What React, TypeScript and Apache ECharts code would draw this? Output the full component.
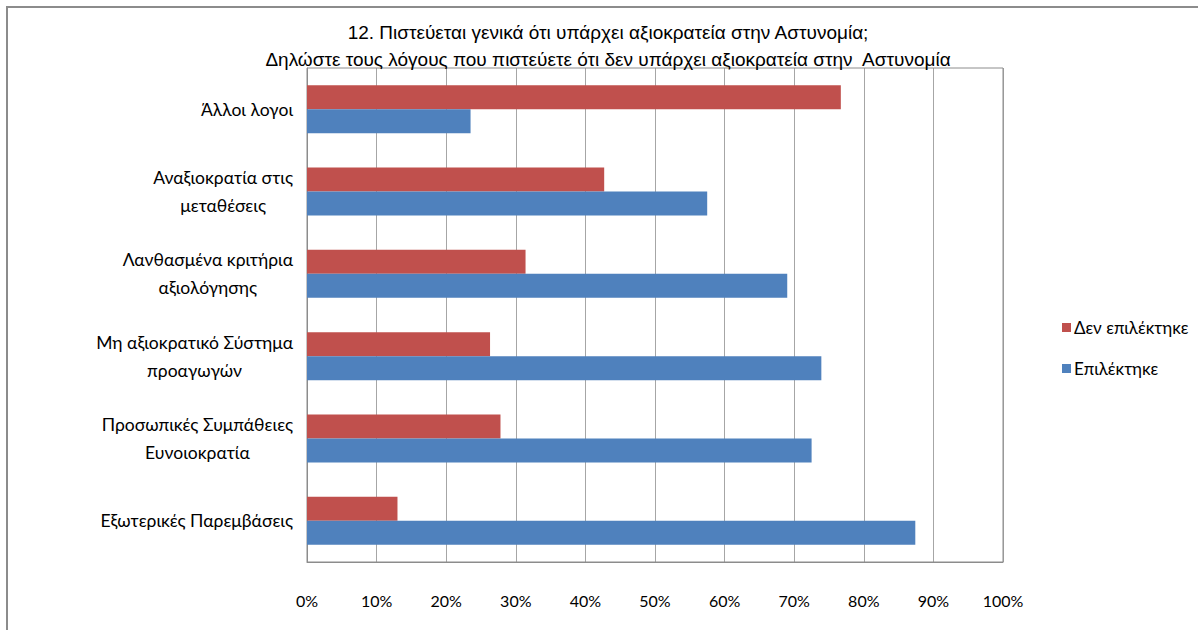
import React, { useEffect, useRef } from "react";
import * as echarts from "echarts";

const categories = [
  "Εξωτερικές Παρεμβάσεις",
  "Προσωπικές Συμπάθειες\nΕυνοιοκρατία",
  "Μη αξιοκρατικό Σύστημα\nπροαγωγών",
  "Λανθασμένα κριτήρια\nαξιολόγησης",
  "Αναξιοκρατία στις\nμεταθέσεις",
  "Άλλοι λογοι",
];
const notSelected = [13.0, 27.8, 26.3, 31.4, 42.7, 76.7];
const selected = [87.4, 72.5, 73.9, 69.0, 57.5, 23.5];
const seriesNames = ["Δεν επιλέκτηκε", "Επιλέκτηκε"];
const titleLines = [
  "12. Πιστεύεται γενικά ότι υπάρχει αξιοκρατεία στην Αστυνομία;",
  "Δηλώστε τους λόγους που πιστεύετε ότι δεν υπάρχει αξιοκρατεία στην  Αστυνομία",
];

const labelFont = "Lato, 'Open Sans', 'Noto Sans', sans-serif";
const titleFont = "'Liberation Sans Narrow', 'Liberation Sans', Arial, sans-serif";

export default function App() {
  const ref = useRef<HTMLDivElement>(null);
  useEffect(() => {
    if (!ref.current) return;
    const chart = echarts.init(ref.current, null, { renderer: "svg" });
    chart.setOption({
      animation: false,
      backgroundColor: "#ffffff",
      graphic: [
        {
          type: "rect",
          shape: { x: 7, y: 7, width: 1300, height: 800 },
          style: { fill: "none", stroke: "#8c8c8c", lineWidth: 2 },
          z: 100,
        },
        {
          type: "rect",
          shape: { x: 307, y: 68, width: 696, height: 494 },
          style: { fill: "none", stroke: "#8c8c8c", lineWidth: 1 },
          z: 1,
          silent: true,
        },
      ],
      title: {
        text: titleLines.join("\n"),
        left: 603,
        top: 14,
        textAlign: "center",
        textStyle: {
          fontFamily: titleFont,
          fontSize: 19,
          fontWeight: "normal",
          color: "#000",
          lineHeight: 27,
        },
      },
      legend: {
        orient: "vertical",
        left: 1057,
        top: 314,
        itemWidth: 9,
        itemHeight: 9,
        itemGap: 24,
        icon: "rect",
        data: seriesNames,
        textStyle: { fontFamily: labelFont, fontSize: 17, color: "#000", padding: [0, 0, 0, -2] },
      },
      grid: { left: 307, right: 195, top: 68, bottom: 68, containLabel: false },
      xAxis: {
        type: "value",
        min: 0,
        max: 100,
        interval: 10,
        axisLabel: {
          formatter: (v: number) => `${v}%`,
          fontFamily: labelFont,
          fontSize: 16,
          color: "#000",
          margin: 30,
        },
        axisLine: { show: true, lineStyle: { color: "#8c8c8c" } },
        axisTick: { show: false },
        splitLine: { show: true, lineStyle: { color: "#a6a6a6", width: 1 } },
      },
      yAxis: {
        type: "category",
        data: categories,
        axisLine: { show: true, lineStyle: { color: "#8c8c8c" } },
        axisTick: { show: false },
        axisLabel: {
          margin: 14,
          align: "right",
          formatter: (v: string) =>
            v
              .split("\n")
              .map((l) => `{a|${l}}`)
              .join("\n"),
          rich: {
            a: {
              align: "center",
              fontFamily: labelFont,
              fontSize: 17.5,
              color: "#000",
              lineHeight: 28,
            },
          },
        },
      },
      series: [
        {
          name: seriesNames[0],
          type: "bar",
          data: notSelected,
          barWidth: 24,
          barGap: "0%",
          itemStyle: { color: "#C0504D" },
        },
        {
          name: seriesNames[1],
          type: "bar",
          data: selected,
          barWidth: 24,
          barGap: "0%",
          itemStyle: { color: "#4F81BD" },
        },
      ],
    });
    return () => chart.dispose();
  }, []);
  return (
    <div
      ref={ref}
      style={{ position: "fixed", left: 0, top: 0, width: 1198, height: 630 }}
    />
  );
}
